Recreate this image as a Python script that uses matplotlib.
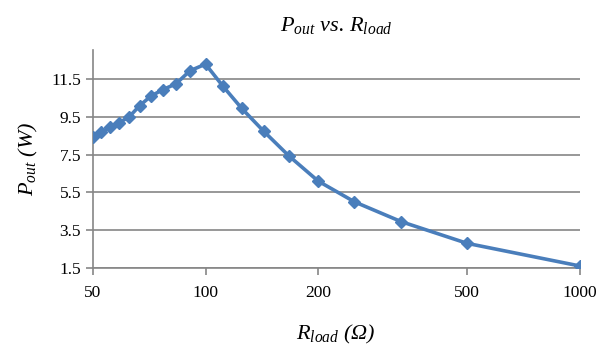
import matplotlib
matplotlib.use("Agg")
import matplotlib.pyplot as plt
from matplotlib.ticker import FixedLocator, NullLocator

plt.rcParams['font.family'] = ['Liberation Serif', 'DejaVu Serif']
plt.rcParams['mathtext.fontset'] = 'custom'
plt.rcParams['mathtext.rm'] = 'Liberation Serif'
plt.rcParams['mathtext.it'] = 'Liberation Serif:italic'

# load resistance (ohm) and output power (W)
r_load = [50, 52.6, 55.6, 58.8, 62.5, 66.7, 71.4, 76.9, 83.3, 90.9, 100,
          111.1, 125, 142.9, 166.7, 200, 250, 333.3, 500, 1000]
p_out = [8.45, 8.7, 8.95, 9.2, 9.5, 10.1, 10.6, 10.95, 11.25, 11.95, 12.3,
         11.15, 9.95, 8.75, 7.45, 6.1, 5.0, 3.95, 2.8, 1.6]

x_ticks = [50, 100, 200, 500, 1000]
y_ticks = [1.5, 3.5, 5.5, 7.5, 9.5, 11.5]

fig = plt.figure(figsize=(5.99, 3.52), dpi=100)
ax = fig.add_axes([0.155, 0.239, 0.813, 0.619])

ax.plot(r_load, p_out, color='#4a7ebb', linewidth=2.6, marker='D',
        markersize=6.5, zorder=3)

ax.set_xscale('log')
ax.set_xlim(50, 1000)
ax.set_ylim(1.5, 13.05)
ax.xaxis.set_major_locator(FixedLocator(x_ticks))
ax.xaxis.set_minor_locator(NullLocator())
ax.set_xticklabels([str(t) for t in x_ticks])
ax.set_yticks(y_ticks)
ax.set_yticklabels([str(t) for t in y_ticks])

ax.grid(axis='y', color='#868686', linewidth=1.2)
ax.set_axisbelow(True)
for s in ['top', 'right']:
    ax.spines[s].set_visible(False)
for s in ['left', 'bottom']:
    ax.spines[s].set_color('#868686')
    ax.spines[s].set_linewidth(1.2)
ax.tick_params(axis='both', colors='#868686', labelcolor='black',
               labelsize=12.5, length=5, width=1.2)
ax.tick_params(axis='x', pad=7)

ax.set_title(r'$P_{out}$ vs. $R_{load}$', fontsize=16, style='italic', pad=14)
ax.set_xlabel(r'$R_{load}$ (Ω)', fontsize=16, style='italic', labelpad=16)
ax.set_ylabel(r'$P_{out}$ (W)', fontsize=16, style='italic', labelpad=8)

fig.savefig('out.png', dpi=100)
